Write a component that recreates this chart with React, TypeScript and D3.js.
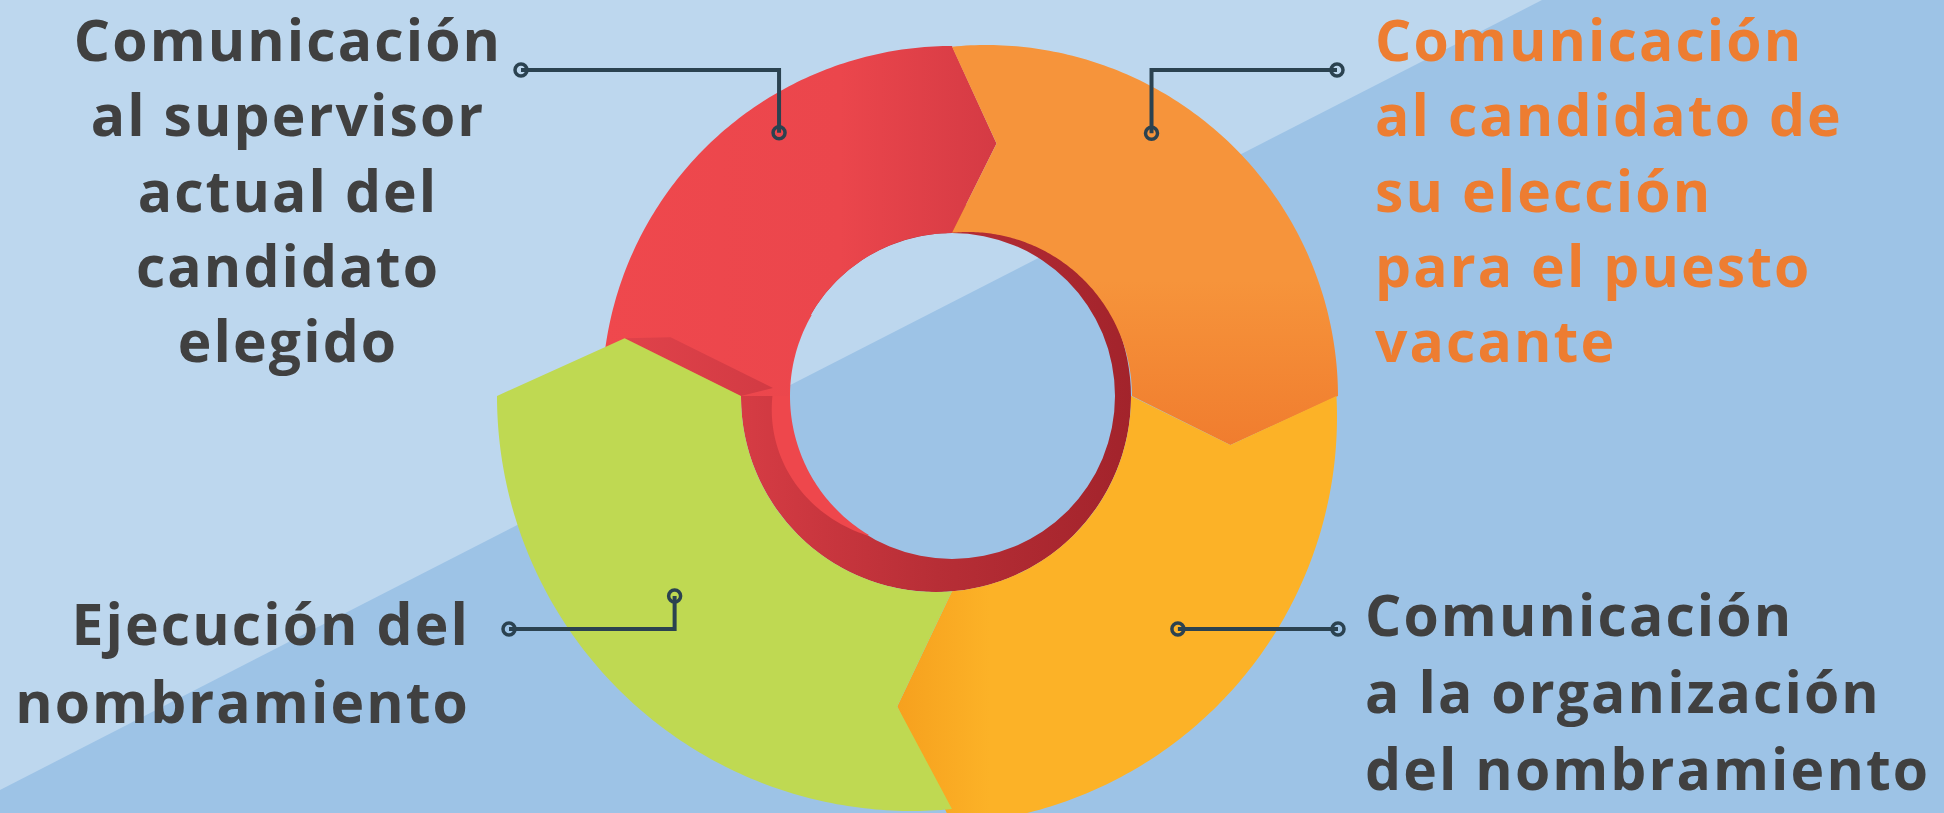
import React from 'react';
import * as d3 from 'd3';

// ---- data ----
const stepNames = ['supervisor', 'candidato', 'organizacion', 'ejecucion'];
const stepShares = [25, 25, 25, 25];
const labelSupervisor = ['Comunicación', 'al supervisor', 'actual del', 'candidato', 'elegido'];
const labelCandidato = ['Comunicación', 'al candidato de', 'su elección', 'para el puesto', 'vacante'];
const labelOrganizacion = ['Comunicación', 'a la organización', 'del nombramiento'];
const labelEjecucion = ['Ejecución del', 'nombramiento'];

type Pt = [number, number];
const W = 1944;
const Hh = 813;
const HC: Pt = [952, 396]; // hole centre
const HOLE_R = 163;
const TIP = (10 * Math.PI) / 180;

const faceShape = [
  { outerC: [952, 396] as Pt, outerR: 350, innerC: [952, 396] as Pt, innerR: 163, fill: 'url(#gRed)', notch: false },
  { outerC: [986, 397] as Pt, outerR: 352, innerC: [968, 396] as Pt, innerR: 164, fill: 'url(#gOrange)', notch: true },
  { outerC: [929, 417] as Pt, outerR: 408, innerC: [936, 397] as Pt, innerR: 195, fill: 'url(#gYellow)', notch: true },
  { outerC: [912, 396] as Pt, outerR: 415, innerC: [936, 397] as Pt, innerR: 195, fill: '#bfd952', notch: true },
];

function rayCircle(th: number, c: Pt, r: number) {
  const ux = Math.sin(th), uy = -Math.cos(th);
  const dx = HC[0] - c[0], dy = HC[1] - c[1];
  const b = dx * ux + dy * uy;
  const cc = dx * dx + dy * dy - r * r;
  return -b + Math.sqrt(b * b - cc);
}
function polar(th: number, t: number): Pt {
  return [HC[0] + t * Math.sin(th), HC[1] - t * Math.cos(th)];
}

const pie = d3.pie<number>().sort(null).startAngle(-Math.PI / 2).endAngle((3 * Math.PI) / 2);
const arcs = pie(stepShares);

const tips: Pt[] = arcs.map((a, i) => {
  const f = faceShape[i];
  const th = a.endAngle + TIP;
  return polar(th, (rayCircle(th, f.outerC, f.outerR) + rayCircle(th, f.innerC, f.innerR)) / 2);
});

const line = d3.line();

function facePath(i: number) {
  const a = arcs[i];
  const f = faceShape[i];
  const N = 120;
  const pts: Pt[] = [];
  for (let k = 0; k <= N; k++) {
    const th = a.startAngle + ((a.endAngle - a.startAngle) * k) / N;
    pts.push(polar(th, rayCircle(th, f.outerC, f.outerR)));
  }
  pts.push(tips[i]);
  for (let k = N; k >= 0; k--) {
    const th = a.startAngle + ((a.endAngle - a.startAngle) * k) / N;
    pts.push(polar(th, rayCircle(th, f.innerC, f.innerR)));
  }
  if (f.notch) pts.push(tips[(i + 3) % 4]);
  return line(pts) + 'Z';
}

// inner wall ring
function circlePath(c: Pt, r: number) {
  const p = d3.path();
  p.moveTo(c[0] + r, c[1]);
  p.arc(c[0], c[1], r, 0, Math.PI * 2);
  p.closePath();
  return p.toString();
}
const wallPath = circlePath(faceShape[3].innerC, faceShape[3].innerR) + circlePath(HC, HOLE_R);

// lip (light red inner edge on lower left)
function lipPath() {
  const a0 = (211 * Math.PI) / 180, a1 = (300 * Math.PI) / 180;
  const N = 80;
  const pts: Pt[] = [];
  for (let k = 0; k <= N; k++) {
    const th = a0 + ((a1 - a0) * k) / N;
    const g = 19 * Math.sin((Math.PI * (th - a0)) / (a1 - a0));
    pts.push(polar(th, HOLE_R + g));
  }
  for (let k = N; k >= 0; k--) {
    const th = a0 + ((a1 - a0) * k) / N;
    pts.push(polar(th, HOLE_R - 1));
  }
  return line(pts) + 'Z';
}

// side stripe beside green arrow
const greenTip = tips[3];
const greenInner = polar(arcs[3].endAngle, rayCircle(arcs[3].endAngle, faceShape[3].innerC, faceShape[3].innerR));
const stripePts: Pt[] = [
  greenTip,
  [greenTip[0] + 46, greenTip[1] - 1],
  [greenInner[0] + 32, greenInner[1] - 8],
  greenInner,
];

const connectors = [
  { angle: 326.7, r: 315, elbowY: 70, endX: 521 },
  { angle: 37.2, r: 330, elbowY: 70, endX: 1337 },
  { angle: 135.9, r: 324.6, elbowY: null as number | null, endX: 1338 },
  { angle: 234.2, r: 342, elbowY: 629, endX: 509 },
];

const textBlocks = [
  { lines: labelSupervisor, x: 288, y0: 61, lh: 75.3, anchor: 'middle', color: '#404040' },
  { lines: labelCandidato, x: 1375, y0: 61, lh: 75.3, anchor: 'start', color: '#ed7d31' },
  { lines: labelOrganizacion, x: 1365, y0: 636, lh: 77, anchor: 'start', color: '#404040' },
  { lines: labelEjecucion, x: 470, y0: 645, lh: 78, anchor: 'end', color: '#404040' },
];

export default function App() {
  const lineColor = '#2b4250';
  return (
    <div style={{ position: 'absolute', left: 0, top: 0 }}>
      <svg width={W} height={Hh} viewBox={`0 0 ${W} ${Hh}`} style={{ display: 'block' }}>
        <defs>
          <linearGradient id="gRed" gradientUnits="userSpaceOnUse" x1={600} y1={0} x2={1000} y2={0}>
            <stop offset="0" stopColor="#ef484d" />
            <stop offset="0.6" stopColor="#eb464c" />
            <stop offset="1" stopColor="#d43a44" />
          </linearGradient>
          <linearGradient id="gOrange" gradientUnits="userSpaceOnUse" x1={0} y1={280} x2={0} y2={450}>
            <stop offset="0" stopColor="#f6943b" />
            <stop offset="1" stopColor="#f07c2e" />
          </linearGradient>
          <linearGradient id="gYellow" gradientUnits="userSpaceOnUse" x1={895} y1={0} x2={990} y2={0}>
            <stop offset="0" stopColor="#f6a01e" />
            <stop offset="1" stopColor="#fcb227" />
          </linearGradient>
          <linearGradient id="gWall" gradientUnits="userSpaceOnUse" x1={740} y1={0} x2={1135} y2={0}>
            <stop offset="0" stopColor="#d63c44" />
            <stop offset="0.5" stopColor="#b72e36" />
            <stop offset="1" stopColor="#a2232b" />
          </linearGradient>
          <linearGradient id="gStripe" gradientUnits="userSpaceOnUse" x1={620} y1={0} x2={780} y2={0}>
            <stop offset="0" stopColor="#e0424a" />
            <stop offset="1" stopColor="#d13a43" />
          </linearGradient>
        </defs>
        <rect x={0} y={0} width={W} height={Hh} fill="#9dc3e6" />
        <polygon points={`0,0 1542,0 0,790`} fill="#bdd7ee" />

        <path d={wallPath} fill="url(#gWall)" fillRule="evenodd" />
        <path d={lipPath()} fill="#ee474c" />
        <path d={facePath(0)} fill={faceShape[0].fill} />
        <path d={line(stripePts) + 'Z'} fill="url(#gStripe)" />
        <path d={facePath(1)} fill={faceShape[1].fill} />
        <path d={facePath(2)} fill={faceShape[2].fill} />
        <path d={facePath(3)} fill={faceShape[3].fill} />

        {connectors.map((c, i) => {
          const p = polar((c.angle * Math.PI) / 180, c.r);
          const pts: Pt[] = c.elbowY == null ? [p, [c.endX, p[1]]] : [p, [p[0], c.elbowY], [c.endX, c.elbowY]];
          const end = pts[pts.length - 1];
          return (
            <g key={stepNames[i]}>
              <path d={line(pts) || ''} fill="none" stroke={lineColor} strokeWidth={4} />
              <circle cx={p[0]} cy={p[1]} r={6} fill="none" stroke={lineColor} strokeWidth={3.5} />
              <circle cx={end[0]} cy={end[1]} r={6} fill="none" stroke={lineColor} strokeWidth={3.5} />
            </g>
          );
        })}

        {textBlocks.map((b, i) => (
          <text
            key={i}
            fontFamily="'Open Sans', sans-serif"
            fontWeight={700}
            fontSize={57}
            letterSpacing={2.1}
            fill={b.color}
            textAnchor={b.anchor as any}
          >
            {b.lines.map((l, k) => (
              <tspan key={k} x={b.x} y={b.y0 + k * b.lh}>
                {l}
              </tspan>
            ))}
          </text>
        ))}
      </svg>
    </div>
  );
}
